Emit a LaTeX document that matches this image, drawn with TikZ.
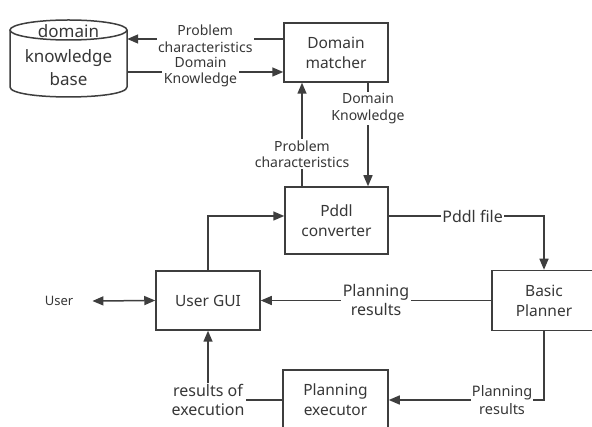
\documentclass[tikz,border=0pt]{standalone}
\usepackage{fontspec}
\setmainfont{Noto Sans}
\usetikzlibrary{arrows.meta,calc}
\definecolor{ink}{RGB}{55,55,55}
\definecolor{wire}{RGB}{62,62,62}
\begin{document}
\begin{tikzpicture}[x=1pt,y=-1pt,
  box/.style={draw=wire,line width=1.5pt,fill=white,minimum width=104pt,minimum height=60pt,
    inner sep=0pt,align=center,text=ink,font=\fontsize{15.5}{20}\selectfont},
  link/.style={draw=wire,line width=1.5pt,-{Triangle[length=11pt,width=9pt]}},
  twoway/.style={draw=wire,line width=1.5pt,{Triangle[length=11pt,width=9pt]}-{Triangle[length=11pt,width=9pt]}},
  lbl/.style={fill=white,inner sep=1.5pt,align=center,text=ink},
  small/.style={font=\fontsize{14}{16.5}\selectfont},
  mid/.style={font=\fontsize{14.5}{17.5}\selectfont},
  big/.style={font=\fontsize{16}{19}\selectfont},
  cyl/.style={draw=wire,line width=1.5pt,fill=white},
]
\useasboundingbox[fill=white] (0,0) rectangle (592,427);

% knowledge base drawn as a cylinder
\filldraw[cyl] (10,30) -- (10,87) .. controls (10,100.3) and (127,100.3) .. (127,87) -- (127,30);
\draw[cyl] (68.5,30) ellipse[x radius=58.5pt,y radius=10pt];
\node[inner sep=0pt,minimum width=117pt,minimum height=77pt,align=center,text=ink,
  font=\fontsize{17}{22.5}\selectfont] (kb) at (68.5,55) {domain\\[2.5pt]knowledge\\base};

% processing blocks
\node[box,minimum height=59pt] (matcher) at (336,52.5) {Domain\\matcher};
\node[box,minimum width=103pt,minimum height=67pt] (converter) at (336.5,220.5) {Pddl\\converter};
\node[box,minimum height=59pt] (gui) at (208,300.5) {User GUI};
\node[box] (planner) at (544,300.5) {Basic\\Planner};
\node[box,minimum width=105pt] (executor) at (335.5,400) {Planning\\executor};
\node[text=ink,inner sep=0pt,font=\fontsize{13}{16}\selectfont] (user) at (59,301) {User};
\coordinate (userend) at ($(user.east)+(19,0)$);

% matcher <-> knowledge base
\draw[link] ($(matcher.west)+(0,-13.5)$) -- ($(kb.east |- matcher.west)+(0,-13.5)$)
  node[lbl,small,midway] {Problem\\characteristics};
\draw[link] ($(kb.east |- matcher.west)+(0,19.5)$) -- ($(matcher.west)+(0,19.5)$)
  node[lbl,small,pos=0.47] {Domain\\Knowledge};

% matcher <-> converter
\draw[link] ($(converter.north)+(-34.5,0)$) -- ($(matcher.south)+(-34,0)$)
  node[lbl,small,pos=0.31] {Problem\\characteristics};
\draw[link] ($(matcher.south)+(32,0)$) -- ($(converter.north)+(31.5,0)$)
  node[lbl,small,pos=0.25] {Domain\\Knowledge};

% main loop
\draw[link] (gui.north) |- ($(converter.west)+(0,-4.5)$);
\draw[link] ($(converter.east)+(0,-4.5)$) -| (planner.north)
  node[lbl,big,pos=0.27,inner sep=1pt] {Pddl file};
\draw[link] (planner.west) -- (gui.east)
  node[lbl,big,midway] {Planning\\results};
\draw[link] (planner.south) |- (executor.east)
  node[lbl,mid,pos=0.635,inner sep=1pt] {Planning\\results};
\draw[link] (executor.west) -| (gui.south)
  node[lbl,big,pos=0.5] {results of\\execution};
\draw[twoway] (userend) -- (gui.west);
\end{tikzpicture}
\end{document}
